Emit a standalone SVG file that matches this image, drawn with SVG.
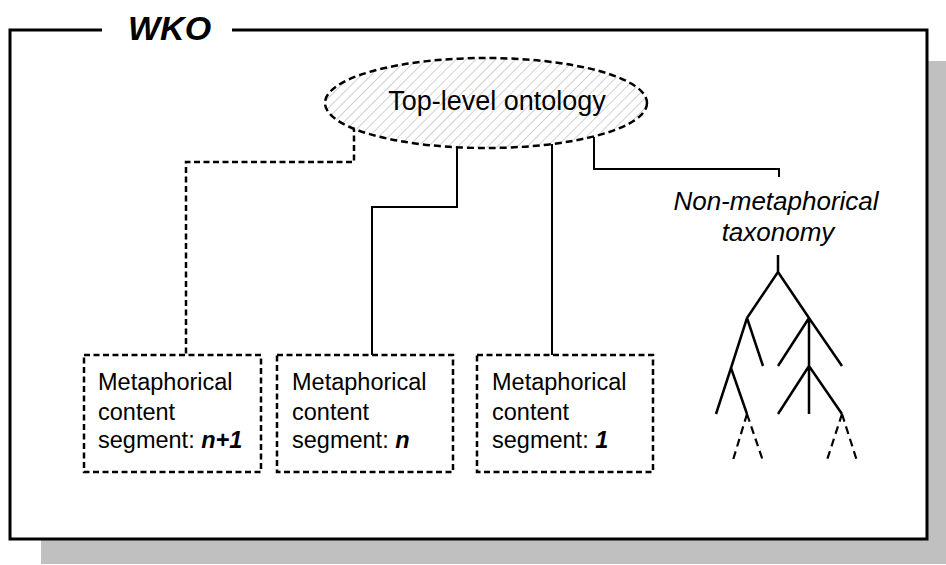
<svg xmlns="http://www.w3.org/2000/svg" width="946" height="565" viewBox="0 0 946 565">
<style>
text{font-family:"Liberation Sans",Arial,sans-serif;fill:#000}
.box{fill:#fff;stroke:#000;stroke-width:2.5;stroke-dasharray:6 3.5}
.lbl{font-size:23.5px}
.bi{font-weight:bold;font-style:italic}
.solid{fill:none;stroke:#000;stroke-width:2}
.dash{fill:none;stroke:#000;stroke-width:2.5;stroke-dasharray:6 3.5}
.tree{fill:none;stroke:#000;stroke-width:2.5;stroke-linecap:butt}
.treed{fill:none;stroke:#000;stroke-width:2.2;stroke-dasharray:8 5}
</style>
<defs>
<pattern id="hatch" width="7" height="7" patternUnits="userSpaceOnUse" patternTransform="rotate(45)">
<rect width="7" height="7" fill="#fff"/>
<line x1="0" y1="0" x2="0" y2="7" stroke="#c4c4c4" stroke-width="1.6"/>
</pattern>
</defs>
<rect x="41" y="61" width="910" height="503" fill="#c0c0c0"/>
<g id="frame">
<rect x="10" y="30" width="917" height="509" fill="#fff"/>
<path d="M102 30 H10 V539 H927 V30 H232" fill="none" stroke="#000" stroke-width="3"/>
<text x="128" y="40" font-size="34" class="bi">WKO</text>
</g>
<g id="connectors">
<path class="dash" d="M354 126 V162 H186 V355"/>
<path class="solid" d="M457 147 V207 H372 V355"/>
<path class="solid" d="M552 144 V355"/>
<path class="solid" d="M594 137 V169 H779 V177"/>
</g>
<g id="top">
<ellipse cx="486" cy="103" rx="161" ry="45" fill="url(#hatch)" stroke="#000" stroke-width="2.5" stroke-dasharray="7 4"/>
<text x="497" y="110" font-size="27" text-anchor="middle">Top-level ontology</text>
</g>
<g id="seg-n1">
<rect class="box" x="84" y="355" width="177" height="117"/>
<text class="lbl" x="98" y="390">Metaphorical</text>
<text class="lbl" x="98" y="420">content</text>
<text class="lbl" x="98" y="448">segment: <tspan class="bi">n+1</tspan></text>
</g>
<g id="seg-n">
<rect class="box" x="277" y="355" width="176" height="117"/>
<text class="lbl" x="292" y="390">Metaphorical</text>
<text class="lbl" x="292" y="420">content</text>
<text class="lbl" x="292" y="448">segment: <tspan class="bi">n</tspan></text>
</g>
<g id="seg-1">
<rect class="box" x="477" y="355" width="176" height="117"/>
<text class="lbl" x="492" y="390">Metaphorical</text>
<text class="lbl" x="492" y="420">content</text>
<text class="lbl" x="492" y="448">segment: <tspan class="bi">1</tspan></text>
</g>
<g id="taxonomy">
<text x="776" y="210" font-size="26" font-style="italic" text-anchor="middle">Non-metaphorical</text>
<text x="778" y="241" font-size="26" font-style="italic" text-anchor="middle">taxonomy</text>
<path class="tree" d="M778 255 V272 M778 272 L747 318 M778 272 L809 318 M747 318 L763 366 M747 318 L731 368 M731 368 L716 414 M731 368 L747 414 M809 318 V414 M809 318 L778 366 M809 318 L842 366 M809 366 L778 414 M809 366 L842 414"/>
<path class="treed" d="M747 414 L733 460 M747 414 L763 461 M842 414 L827 460 M842 414 L857 461"/>
</g>
</svg>
